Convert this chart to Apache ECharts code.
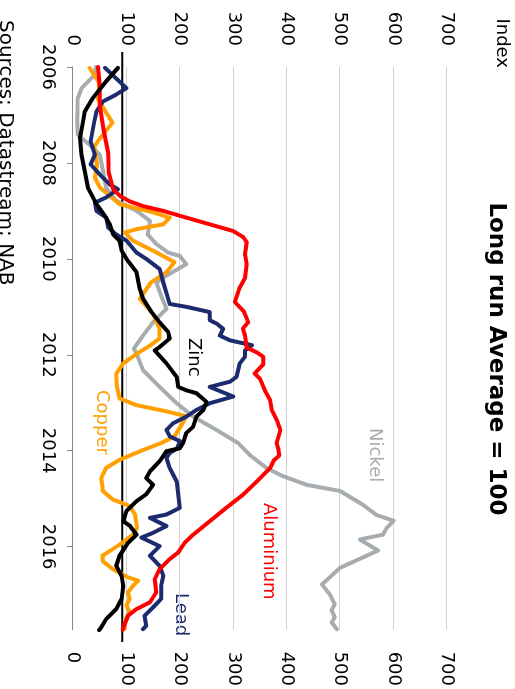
<!DOCTYPE html>
<html><head><meta charset="utf-8">
<script src="https://cdn.jsdelivr.net/npm/echarts@6/dist/echarts.min.js"></script>
<style>
html,body{margin:0;padding:0;width:515px;height:689px;overflow:hidden;background:#fff}
#wrap{position:absolute;left:515px;top:0;width:689px;height:515px;transform:rotate(90deg);transform-origin:0 0}
#chart{width:689px;height:515px}
</style></head><body>
<div id="wrap"><div id="chart"></div></div>
<script>
const yearTicks = [2006, 2008, 2010, 2012, 2014, 2016];
const valueMin = 0, valueMax = 700, valueStep = 100;
const longRunLevel = 92;

const nickel = [[2006.0,43],[2006.17,40],[2006.44,16],[2006.65,9],[2007.13,8],[2007.41,9],[2007.62,31],[2007.83,50],[2008.17,56],[2008.52,62],[2008.79,81],[2009.0,119],[2009.21,144],[2009.49,140],[2009.69,156],[2009.87,178],[2009.94,200],[2010.11,212],[2010.35,175],[2010.49,156],[2010.77,165],[2011.04,175],[2011.32,150],[2011.6,131],[2011.87,114],[2011.98,119],[2012.32,131],[2012.67,162],[2013.01,194],[2013.29,225],[2013.57,269],[2013.84,309],[2014.09,331],[2014.36,362],[2014.53,393],[2014.71,437],[2014.84,500],[2015.13,543],[2015.34,568],[2015.46,600],[2015.61,587],[2015.75,580],[2015.85,537],[2016.08,571],[2016.44,500],[2016.79,466],[2017.0,481],[2017.2,490],[2017.33,484],[2017.47,490],[2017.58,484],[2017.72,494]];

const copper = [[2006.02,31],[2006.33,49],[2006.68,47],[2007.16,74],[2007.51,49],[2007.66,40],[2008.03,45],[2008.3,41],[2008.51,50],[2008.86,87],[2009.03,150],[2009.14,181],[2009.28,169],[2009.38,119],[2009.45,97],[2009.62,112],[2009.83,150],[2010.07,190],[2010.28,175],[2010.49,146],[2010.83,125],[2011.15,150],[2011.46,162],[2011.66,162],[2011.81,144],[2011.98,119],[2012.18,94],[2012.39,81],[2012.64,82],[2012.91,87],[2013.05,119],[2013.18,175],[2013.28,212],[2013.43,205],[2013.7,190],[2013.84,165],[2013.99,130],[2014.19,87],[2014.36,62],[2014.57,53],[2014.84,56],[2015.02,75],[2015.15,106],[2015.33,116],[2015.61,120],[2015.75,112],[2015.96,87],[2016.19,55],[2016.31,56],[2016.47,75],[2016.64,103],[2016.71,122],[2016.82,112],[2016.95,103],[2017.09,106],[2017.22,100],[2017.37,106],[2017.47,100],[2017.58,97],[2017.72,96]];

const lead = [[2006.02,60],[2006.44,100],[2006.58,80],[2006.72,56],[2006.93,44],[2007.13,40],[2007.55,33],[2007.83,41],[2008.03,33],[2008.24,50],[2008.45,69],[2008.55,84],[2008.72,62],[2008.83,41],[2009.0,44],[2009.14,62],[2009.35,66],[2009.49,81],[2009.62,100],[2009.87,119],[2010.0,137],[2010.21,162],[2010.49,169],[2010.83,178],[2010.94,181],[2011.0,212],[2011.11,256],[2011.28,256],[2011.35,269],[2011.46,281],[2011.6,275],[2011.7,294],[2011.8,335],[2011.91,322],[2012.04,322],[2012.18,312],[2012.46,306],[2012.56,294],[2012.67,256],[2012.87,300],[2013.01,256],[2013.15,231],[2013.29,212],[2013.43,187],[2013.57,175],[2013.7,181],[2013.8,200],[2013.95,195],[2014.05,181],[2014.15,175],[2014.36,181],[2014.64,194],[2014.91,197],[2015.19,200],[2015.33,175],[2015.4,144],[2015.57,175],[2015.71,150],[2015.81,128],[2015.99,162],[2016.19,144],[2016.4,162],[2016.61,169],[2016.82,165],[2017.09,165],[2017.23,153],[2017.44,134],[2017.65,137],[2017.72,131]];

const aluminium = [[2006.0,47],[2006.4,50],[2006.8,50],[2007.3,57],[2007.8,66],[2008.2,67],[2008.55,75],[2008.69,88],[2008.8,106],[2008.9,131],[2009.0,169],[2009.14,212],[2009.28,256],[2009.42,300],[2009.55,319],[2009.65,325],[2009.9,322],[2010.1,325],[2010.4,322],[2010.6,312],[2010.9,303],[2011.1,320],[2011.32,328],[2011.45,318],[2011.6,322],[2011.85,325],[2011.95,344],[2012.04,356],[2012.2,356],[2012.39,340],[2012.5,350],[2012.74,359],[2012.95,369],[2013.15,372],[2013.35,381],[2013.57,388],[2013.84,381],[2013.95,384],[2014.1,386],[2014.2,376],[2014.36,369],[2014.64,344],[2014.91,319],[2015.19,287],[2015.47,256],[2015.75,225],[2015.92,209],[2016.12,197],[2016.26,181],[2016.47,162],[2016.68,153],[2016.95,156],[2017.16,144],[2017.3,119],[2017.44,103],[2017.61,97],[2017.73,93]];

const zinc = [[2006.02,84],[2006.3,62],[2006.65,37],[2006.93,22],[2007.13,19],[2007.48,13],[2007.83,16],[2008.17,22],[2008.52,28],[2008.86,44],[2009.14,62],[2009.28,69],[2009.49,75],[2009.62,87],[2009.83,91],[2010.0,100],[2010.28,119],[2010.63,125],[2010.83,131],[2011.11,147],[2011.32,162],[2011.52,178],[2011.66,181],[2011.84,162],[2011.91,153],[2012.18,175],[2012.46,194],[2012.67,197],[2012.74,212],[2012.8,231],[2012.98,250],[2013.15,244],[2013.29,231],[2013.5,225],[2013.63,212],[2013.84,206],[2013.95,200],[2014.01,175],[2014.22,162],[2014.43,144],[2014.57,137],[2014.71,150],[2014.91,137],[2015.05,119],[2015.26,100],[2015.47,94],[2015.56,106],[2015.75,119],[2015.92,103],[2016.19,87],[2016.4,81],[2016.61,91],[2016.82,94],[2017.09,91],[2017.3,81],[2017.51,62],[2017.68,53],[2017.74,49]];

const seriesNames = ['Nickel', 'Copper', 'Lead', 'Aluminium', 'Zinc'];
const seriesData = [nickel, copper, lead, aluminium, zinc];
const seriesColors = ['#A6ACAF', '#FFA000', '#1C2B6E', '#FF0000', '#000000'];
const labelPos = [[428,131],[390,404],[593,325],[503,237],[338,312]];

const FONT = 'DejaVu Sans';
const chart = echarts.init(document.getElementById('chart'), null, {renderer: 'canvas'});

const lineSeries = seriesNames.map((n, i) => ({
  name: n, type: 'line', xAxisIndex: 0, yAxisIndex: 0, data: seriesData[i],
  showSymbol: false, symbol: 'none', smooth: false,
  lineStyle: {color: seriesColors[i], width: 4, join: 'round', cap: 'round'},
  z: 3 + i
}));
lineSeries.unshift({
  name: 'ref', type: 'line', xAxisIndex: 1, yAxisIndex: 2,
  data: [[0, longRunLevel], [1, longRunLevel]], showSymbol: false, symbol: 'none',
  lineStyle: {color: '#000', width: 2}, z: 2
});

const graphics = seriesNames.map((n, i) => ({
  type: 'text', x: labelPos[i][0], y: labelPos[i][1],
  style: {text: n, fill: seriesColors[i], font: '18px "DejaVu Sans"'}
}));
graphics.push({type: 'text', x: 68, y: 4, style: {text: 'Index', fill: '#000', font: '18px "DejaVu Sans"', align: 'right'}});
graphics.push({type: 'text', x: 20, y: 500, style: {text: 'Sources: Datastream; NAB', fill: '#000', font: '20px "DejaVu Sans"'}});

chart.setOption({
  animation: false,
  backgroundColor: '#fff',
  textStyle: {fontFamily: FONT},
  title: {text: 'Long run Average = 100', left: 354, top: 3, textAlign: 'center',
    textStyle: {fontFamily: FONT, fontSize: 23, fontWeight: 'bold', color: '#000'}},
  grid: [
    {left: 67, right: 56, top: 68, bottom: 73},
    {left: 52, right: 47, top: 68, bottom: 73}
  ],
  xAxis: [
    {type: 'value', gridIndex: 0, min: 2006, max: 2017.73,
      axisLine: {show: true, lineStyle: {color: '#888', width: 1}},
      axisTick: {show: true, length: 6, customValues: yearTicks, lineStyle: {color: '#888'}},
      axisLabel: {customValues: yearTicks, formatter: v => String(v), fontSize: 18, color: '#000', margin: 16, fontFamily: FONT},
      splitLine: {show: false}},
    {type: 'value', gridIndex: 1, min: 0, max: 1, show: false}
  ],
  yAxis: [
    {type: 'value', gridIndex: 0, min: valueMin, max: valueMax, interval: valueStep, position: 'left',
      axisLine: {show: false}, axisTick: {show: false},
      axisLabel: {fontSize: 18, color: '#000', margin: 21, fontFamily: FONT},
      splitLine: {show: true, lineStyle: {color: '#D0D0D0', width: 1}}},
    {type: 'value', gridIndex: 0, min: valueMin, max: valueMax, interval: valueStep, position: 'right',
      axisLine: {show: false}, axisTick: {show: false},
      axisLabel: {fontSize: 18, color: '#000', margin: 22, fontFamily: FONT},
      splitLine: {show: false}},
    {type: 'value', gridIndex: 1, min: valueMin, max: valueMax, show: false}
  ],
  graphic: graphics,
  series: lineSeries
});
</script>
</body></html>
